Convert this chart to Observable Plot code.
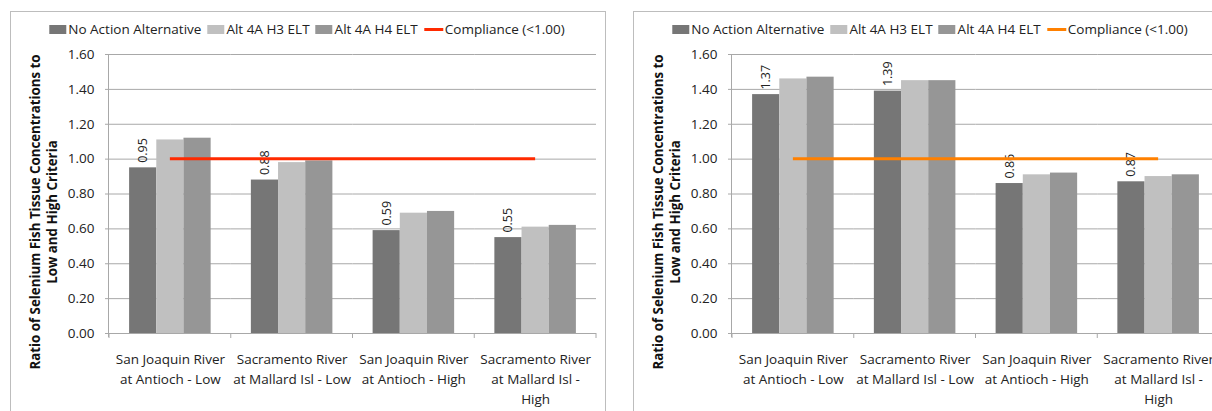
<!DOCTYPE html>
<html><head><meta charset="utf-8">
<script src="https://cdn.jsdelivr.net/npm/d3@7"></script>
<script src="https://cdn.jsdelivr.net/npm/@observablehq/plot@0.6"></script>
<style>
body{margin:0;background:#fff;font-family:"Open Sans",sans-serif;}
#wrap{position:relative;width:1212px;height:411px;overflow:hidden;background:#fff;}
.panel{position:absolute;top:11px;width:596px;height:420px;border:1px solid #bdbdbd;box-sizing:border-box;}
.chart{position:absolute;top:0;}
.legend{position:absolute;top:20px;display:flex;align-items:center;font-size:13.5px;color:#222;white-space:nowrap;transform:translateX(-50%);line-height:18px;}
.legend .item{display:flex;align-items:center;margin-right:6px;}
.legend .sw{display:inline-block;width:17px;height:9px;margin-right:2px;}
.legend .ln{display:inline-block;width:19px;height:3px;margin-right:2px;}
.ytitle{position:absolute;transform:translate(-50%,-50%) rotate(-90deg);font-weight:bold;font-size:13.3px;line-height:17px;text-align:center;white-space:nowrap;color:#111;}
</style></head>
<body><div id="wrap"></div>
<script>
const categories = ["SJR Antioch Low", "SR Mallard Low", "SJR Antioch High", "SR Mallard High"];
const tickLabels = ["San Joaquin River\nat Antioch - Low", "Sacramento River\nat Mallard Isl - Low", "San Joaquin River\nat Antioch - High", "Sacramento River\nat Mallard Isl -\nHigh"];
const series = ["No Action Alternative", "Alt 4A H3 ELT", "Alt 4A H4 ELT"];
const seriesColors = ["#767676", "#c0c0c0", "#969696"];
const yTicks = [0, 0.2, 0.4, 0.6, 0.8, 1.0, 1.2, 1.4, 1.6];
const complianceLevel = 1.00;
const complianceLabel = "Compliance (<1.00)";
const yTitle = ["Ratio of Selenium Fish Tissue Concentrations to", "Low and High Criteria"];

const leftNoAction = [0.95, 0.88, 0.59, 0.55];
const leftH3 = [1.11, 0.98, 0.69, 0.61];
const leftH4 = [1.12, 0.99, 0.70, 0.62];
const leftComplianceColor = "#ff2a00";

const rightNoAction = [1.37, 1.39, 0.86, 0.87];
const rightH3 = [1.46, 1.45, 0.91, 0.90];
const rightH4 = [1.47, 1.45, 0.92, 0.91];
const rightComplianceColor = "#ff8000";

const wrap = document.getElementById("wrap");

function buildPanel(offset, vals, compColor) {
  const rows = [];
  categories.forEach((c, i) => {
    series.forEach((s, j) => rows.push({cat: c, series: s, value: vals[j][i]}));
  });
  const labelRows = rows.filter(d => d.series === series[0]);

  const panel = document.createElement("div");
  panel.className = "panel";
  panel.style.left = (offset + 10) + "px";
  wrap.appendChild(panel);

  const W = 606, H = 411, mL = 109, mR = 10, mT = 54, mB = 78;
  const plot = Plot.plot({
    width: W, height: H,
    marginLeft: mL, marginRight: mR, marginTop: mT, marginBottom: mB,
    style: {fontFamily: "'Open Sans', sans-serif", background: "transparent", color: "#222"},
    fx: {domain: categories, paddingInner: 0, paddingOuter: 0, round: false, axis: null},
    x: {domain: series, paddingInner: 0, paddingOuter: 0.74, round: false, axis: null},
    y: {domain: [0, 1.6]},
    color: {domain: series, range: seriesColors},
    marks: [
      Plot.gridY(yTicks, {stroke: "#a8a8a8", strokeOpacity: 1}),
      Plot.barY(rows, {fx: "cat", x: "series", y: "value", fill: "series", inset: 0}),
      Plot.ruleY([0], {stroke: "#a8a8a8"}),
      Plot.text(labelRows, {fx: "cat", x: "series", y: "value", text: d => d.value.toFixed(2),
        rotate: -90, textAnchor: "start", lineAnchor: "middle", dy: -5, fontSize: 12.5, fill: "#222"}),
      Plot.axisY({ticks: yTicks, tickFormat: d3.format(".2f"), tickSize: 4, tickPadding: 11,
        fontSize: 13.5, stroke: "#a8a8a8", fill: "#222", label: null}),
      Plot.axisFx({anchor: "bottom", tickSize: 0, tickPadding: 17, fontSize: 13.5, lineHeight: 1.45,
        tickFormat: d => tickLabels[categories.indexOf(d)], fill: "#222", label: null})
    ]
  });
  plot.classList.add("chart");
  plot.style.left = offset + "px";
  wrap.appendChild(plot);

  // axis line, band boundary ticks and compliance line from Plot's scales
  const fx = plot.scale("fx"), y = plot.scale("y");
  const starts = categories.map(c => fx.apply(c));
  const bw = fx.bandwidth;
  const svg = d3.select(plot);
  const g = svg.append("g");
  const y0 = y.apply(0), yTop = y.apply(1.6);
  g.append("line").attr("x1", starts[0] - 0.5).attr("x2", starts[0] - 0.5).attr("y1", yTop).attr("y2", y0 + 4)
    .attr("stroke", "#a8a8a8");
  [...starts, starts[starts.length - 1] + bw].forEach(x => {
    g.append("line").attr("x1", x).attr("x2", x).attr("y1", y0).attr("y2", y0 + 5).attr("stroke", "#a8a8a8");
  });
  const yc = y.apply(complianceLevel);
  g.append("line").attr("x1", starts[0] + bw / 2).attr("x2", starts[starts.length - 1] + bw / 2)
    .attr("y1", yc).attr("y2", yc).attr("stroke", compColor).attr("stroke-width", 3);

  // legend
  const lg = document.createElement("div");
  lg.className = "legend";
  lg.style.left = (offset + 310) + "px";
  series.forEach((s, j) => {
    const it = document.createElement("span"); it.className = "item";
    const sw = document.createElement("span"); sw.className = "sw"; sw.style.background = seriesColors[j];
    it.appendChild(sw); it.appendChild(document.createTextNode(s)); lg.appendChild(it);
  });
  const it = document.createElement("span"); it.className = "item";
  const ln = document.createElement("span"); ln.className = "ln"; ln.style.background = compColor;
  it.appendChild(ln); it.appendChild(document.createTextNode(complianceLabel)); lg.appendChild(it);
  wrap.appendChild(lg);

  // y title
  const yt = document.createElement("div");
  yt.className = "ytitle";
  yt.style.left = (offset + 44) + "px";
  yt.style.top = "212px";
  yt.innerHTML = yTitle.join("<br>");
  wrap.appendChild(yt);
}

buildPanel(0, [leftNoAction, leftH3, leftH4], leftComplianceColor);
buildPanel(623, [rightNoAction, rightH3, rightH4], rightComplianceColor);
</script>
</body></html>
